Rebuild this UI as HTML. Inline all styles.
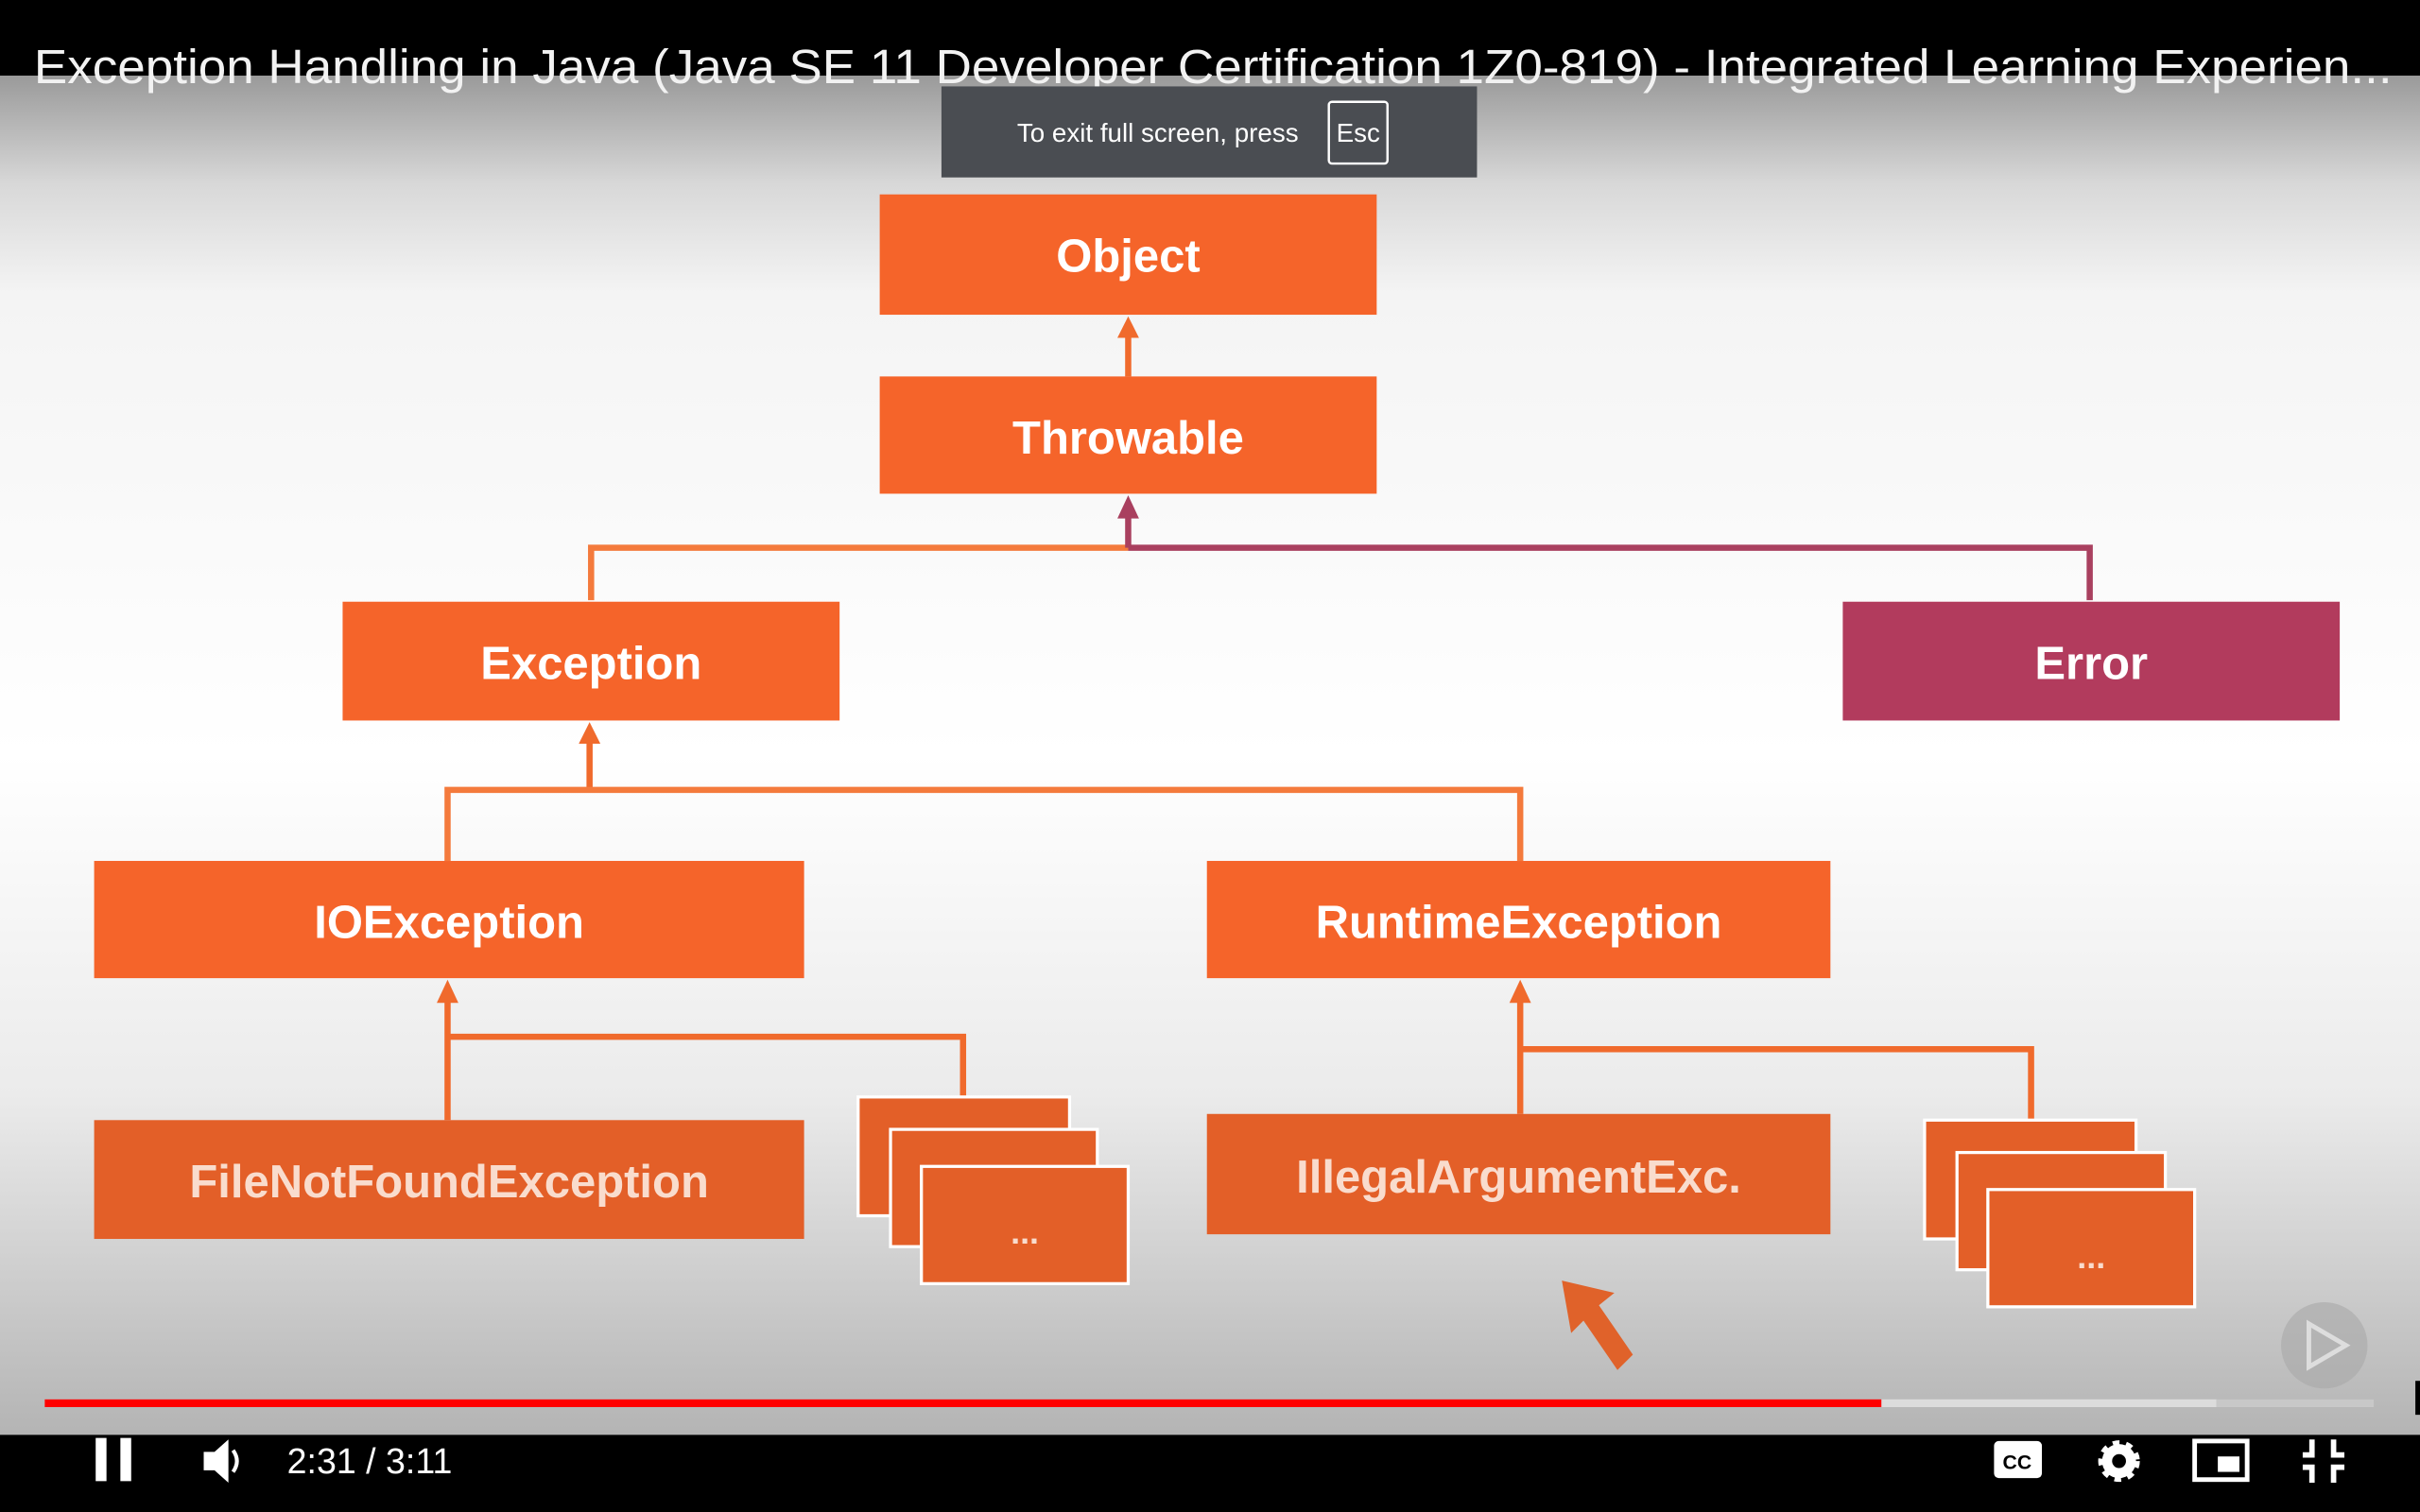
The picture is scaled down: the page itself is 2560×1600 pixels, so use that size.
<!DOCTYPE html>
<html><head><meta charset="utf-8"><style>
html,body{margin:0;padding:0;background:#000;overflow:hidden}
svg{display:block}
text{font-family:"Liberation Sans",sans-serif}
</style></head><body>
<svg width="2560" height="1600" viewBox="0 0 1568 980" preserveAspectRatio="none" xmlns="http://www.w3.org/2000/svg">
<defs>
<linearGradient id="bg" x1="0" y1="0" x2="0" y2="1">
<stop offset="0" stop-color="#9a9a9a"/>
<stop offset="0.08" stop-color="#d8d8d8"/>
<stop offset="0.16" stop-color="#f4f4f4"/>
<stop offset="0.5" stop-color="#ffffff"/>
<stop offset="0.75" stop-color="#ebebeb"/>
<stop offset="1" stop-color="#b4b4b4"/>
</linearGradient>
</defs>
<rect x="0" y="0" width="1568" height="980" fill="#000"/>
<rect x="0" y="49" width="1568" height="881" fill="url(#bg)"/>
<text x="22" y="54" font-size="31" fill="#f2f2f2" textLength="1528" lengthAdjust="spacingAndGlyphs">Exception Handling in Java (Java SE 11 Developer Certification 1Z0-819) - Integrated Learning Experien...</text>

<!-- connectors -->
<g fill="none" stroke-width="4">
<line x1="731" y1="244" x2="731" y2="214" stroke="#f06a2c"/>
<polyline points="383,389 383,355 731,355" stroke="#f47a3c"/>
<polyline points="731,355 1354,355 1354,389" stroke="#a9405f"/>
<line x1="731" y1="355" x2="731" y2="330" stroke="#a9405f"/>
<line x1="382" y1="512" x2="382" y2="478" stroke="#f06a2c"/>
<polyline points="290,558 290,512 985,512 985,558" stroke="#f47a3c"/>
<line x1="290" y1="726" x2="290" y2="645" stroke="#f06a2c"/>
<polyline points="290,672 624,672 624,712" stroke="#f06a2c"/>
<line x1="985" y1="722" x2="985" y2="645" stroke="#f06a2c"/>
<polyline points="985,680 1316,680 1316,726" stroke="#f06a2c"/>
</g>
<g>
<polygon points="731,205 724,219 738,219" fill="#f06a2c"/>
<polygon points="731,321 724,336 738,336" fill="#a9405f"/>
<polygon points="382,468 375,482 389,482" fill="#f06a2c"/>
<polygon points="290,635 283,650 297,650" fill="#f06a2c"/>
<polygon points="985,635 978,650 992,650" fill="#f06a2c"/>
</g>

<!-- boxes -->
<g font-weight="bold" font-size="30" fill="#fff" text-anchor="middle">
<rect x="570" y="126" width="322" height="78" fill="#f5642a"/>
<text x="731" y="176">Object</text>
<rect x="570" y="244" width="322" height="76" fill="#f5642a"/>
<text x="731" y="294">Throwable</text>
<rect x="222" y="390" width="322" height="77" fill="#f5642a"/>
<text x="383" y="440">Exception</text>
<rect x="1194" y="390" width="322" height="77" fill="#b23b5d"/>
<text x="1355" y="440">Error</text>
<rect x="61" y="558" width="460" height="76" fill="#f5642a"/>
<text x="291" y="608">IOException</text>
<rect x="782" y="558" width="404" height="76" fill="#f5642a"/>
<text x="984" y="608">RuntimeException</text>
<rect x="61" y="726" width="460" height="77" fill="#e35f28"/>
<text x="291" y="776" fill="#f9dccd">FileNotFoundException</text>
<rect x="782" y="722" width="404" height="78" fill="#e35f28"/>
<text x="984" y="773" fill="#f9dccd">IllegalArgumentExc.</text>
</g>
<g stroke="#fff" stroke-width="2" fill="#e35f28">
<rect x="556" y="711" width="137" height="77"/>
<rect x="577" y="732" width="134" height="76"/>
<rect x="597" y="756" width="134" height="76"/>
<rect x="1247" y="726" width="137" height="77"/>
<rect x="1268" y="747" width="135" height="76"/>
<rect x="1288" y="771" width="134" height="76"/>
</g>
<text x="664" y="806" font-size="22" font-weight="bold" fill="#f9dccd" text-anchor="middle">...</text>
<text x="1355" y="822" font-size="22" font-weight="bold" fill="#f9dccd" text-anchor="middle">...</text>
<!-- cursor arrow -->
<polygon points="1012,830 1046,838 1036,846 1058,878 1048,888 1026,856 1018,864" fill="#e0622a"/>

<!-- toast -->
<rect x="610" y="56" width="347" height="59" fill="#4a4d52"/>
<text x="659" y="92" font-size="17" fill="#fff">To exit full screen, press</text>
<rect x="861" y="66" width="38" height="40" rx="2" fill="none" stroke="#fff" stroke-width="1.5"/>
<text x="880" y="92" font-size="17" fill="#fff" text-anchor="middle">Esc</text>

<!-- watermark -->
<circle cx="1506" cy="872" r="28" fill="#a8a8a8" opacity="0.6"/>
<polygon points="1496,858 1520,872 1496,886" fill="none" stroke="#ddd" stroke-width="3"/>

<!-- progress -->
<rect x="29" y="907" width="1509" height="5" fill="#c8c8c8"/>
<rect x="1219" y="907" width="217" height="5" fill="#dcdcdc"/>
<rect x="29" y="907" width="1190" height="5" fill="#f00"/>
<rect x="1565" y="895" width="3" height="22" fill="#000"/>

<!-- controls -->
<rect x="62" y="932" width="7" height="28" fill="#fff"/>
<rect x="78" y="932" width="7" height="28" fill="#fff"/>
<polygon points="132,941 139,941 148,933 148,961 139,953 132,953" fill="#fff"/>
<path d="M151 940 Q156 947 151 954" stroke="#fff" stroke-width="2.5" fill="none"/>
<text x="186" y="955" font-size="23" fill="#fff">2:31 / 3:11</text>
<rect x="1292" y="934" width="31" height="24" rx="3" fill="#fff"/>
<text x="1307" y="952" font-size="13" font-weight="bold" fill="#000" text-anchor="middle">CC</text>
<circle cx="1373" cy="947" r="11" fill="#fff"/>
<circle cx="1373" cy="947" r="11" fill="none" stroke="#fff" stroke-width="5" stroke-dasharray="4 4"/>
<circle cx="1373" cy="947" r="4.5" fill="#000"/>
<rect x="1422" y="934" width="34" height="25" fill="none" stroke="#fff" stroke-width="3"/>
<rect x="1437" y="944" width="14" height="10" fill="#fff"/>
<path d="M1498 933 V943 H1492 M1512 933 V943 H1519 M1492 951 H1498 V961 M1519 951 H1512 V961" stroke="#fff" stroke-width="3.5" fill="none"/>
</svg>
</body></html>
